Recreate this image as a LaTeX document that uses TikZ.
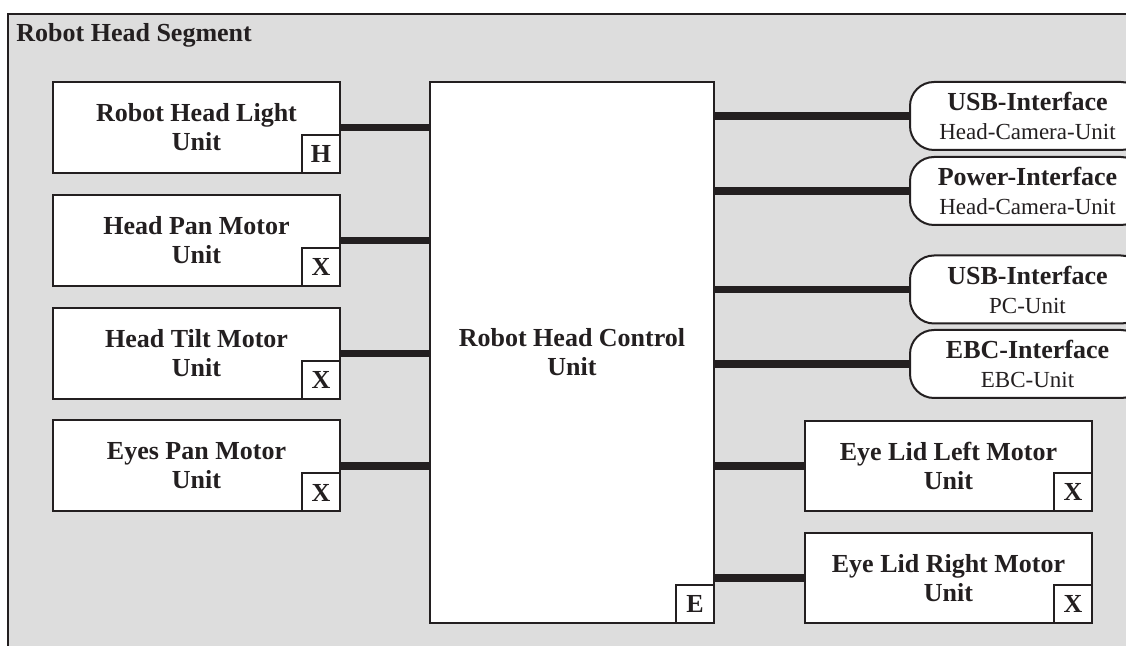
\documentclass[tikz,border=0pt]{standalone}
\usepackage{fontspec}
\setmainfont{Liberation Serif}
\definecolor{bg}{RGB}{221,221,221}
\definecolor{ink}{RGB}{35,31,32}
\begin{document}
\begin{tikzpicture}[x=0.5pt,y=-0.5pt,
  box/.style={draw=ink,line width=1pt,fill=white,minimum width=143.5pt,minimum height=45.5pt,inner sep=0pt,align=center,font=\fontsize{13pt}{14.5pt}\selectfont\bfseries,text=ink},
  tag/.style={draw=ink,line width=1pt,fill=white,minimum size=19pt,inner sep=0pt,font=\fontsize{13pt}{14pt}\selectfont\bfseries,text=ink,anchor=south east},
  iface/.style={draw=ink,line width=1pt,fill=white,rounded corners=12pt,minimum width=117.5pt,minimum height=34pt,inner sep=0pt,align=center,font=\fontsize{13pt}{14.5pt}\selectfont,text=ink},
  conn/.style={draw=ink,line width=3.75pt}]
\path[use as bounding box] (0,0) rectangle (1126,646);
\clip (0,0) rectangle (1126,646);
% segment frame
\draw[draw=ink,line width=1.1pt,fill=bg] (8,14) rectangle (1160,680);
\node[anchor=base west,inner sep=0pt,text=ink,font=\fontsize{13pt}{14.5pt}\selectfont\bfseries] (title) at (16,42) {Robot Head Segment};
% left units
\node[box] (L1) at (196.5,127.5) {Robot Head Light\\Unit};
\node[box] (L2) at (196.5,240.5) {Head Pan Motor\\Unit};
\node[box] (L3) at (196.5,353.5) {Head Tilt Motor\\Unit};
\node[box] (L4) at (196.5,466) {Eyes Pan Motor\\Unit};
\node[tag] (tL1) at (L1.south east) {H};
\node[tag] (tL2) at (L2.south east) {X};
\node[tag] (tL3) at (L3.south east) {X};
\node[tag] (tL4) at (L4.south east) {X};
% central unit
\node[box,minimum width=142pt,minimum height=270.5pt] (C) at (572,352.5) {Robot Head Control\\Unit};
\node[tag] (tC) at (C.south east) {E};
% interfaces
\node[iface] (I1) at (1027.5,116) {\textbf{USB-Interface}\\{\fontsize{11.5pt}{14.5pt}\selectfont Head-Camera-Unit}};
\node[iface] (I2) at (1027.5,191) {\textbf{Power-Interface}\\{\fontsize{11.5pt}{14.5pt}\selectfont Head-Camera-Unit}};
\node[iface] (I3) at (1027.5,289.5) {\textbf{USB-Interface}\\{\fontsize{11.5pt}{14.5pt}\selectfont PC-Unit}};
\node[iface] (I4) at (1027.5,364) {\textbf{EBC-Interface}\\{\fontsize{11.5pt}{14.5pt}\selectfont EBC-Unit}};
% right units
\node[box,minimum height=45pt] (R1) at (948.5,466) {Eye Lid Left Motor\\Unit};
\node[box,minimum height=45pt] (R2) at (948.5,578) {Eye Lid Right Motor\\Unit};
\node[tag] (tR1) at (R1.south east) {X};
\node[tag] (tR2) at (R2.south east) {X};
% connectors
\foreach \n in {L1,L2,L3,L4}{\draw[conn] (\n.east) -- (\n.east -| C.west);}
\foreach \n in {I1,I2,I3,I4,R1,R2}{\draw[conn] (\n.west -| C.east) -- (\n.west);}
\end{tikzpicture}
\end{document}
